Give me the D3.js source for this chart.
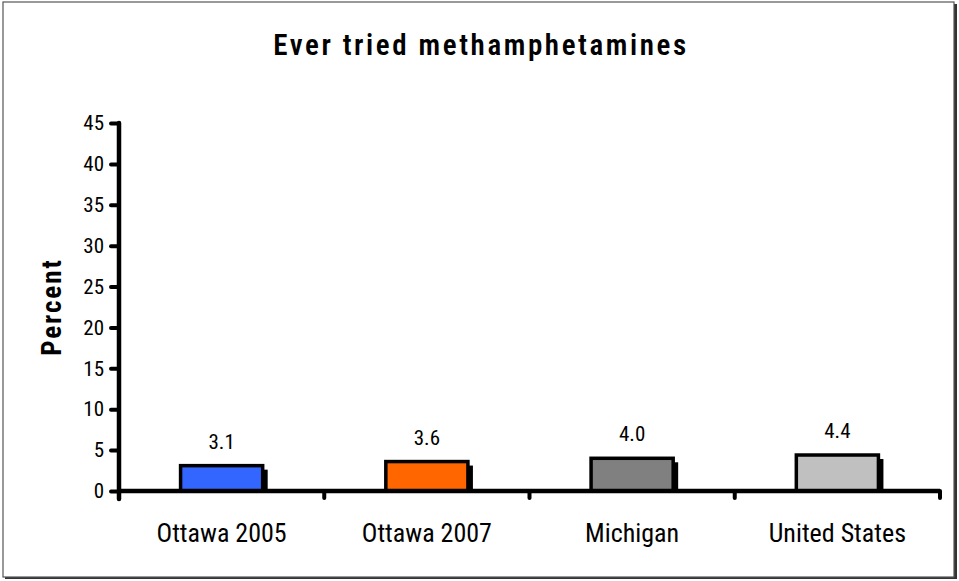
<!DOCTYPE html>
<html><head><meta charset="utf-8">
<script src="https://cdn.jsdelivr.net/npm/d3@7"></script>
<style>
body{margin:0;background:#fff;}
text{font-family:"Liberation Sans Narrow","Roboto Condensed","DejaVu Sans Condensed","Liberation Sans",sans-serif;fill:#000;}
</style></head>
<body><svg id="c" width="959" height="581"></svg>
<script>
const categories = ["Ottawa 2005","Ottawa 2007","Michigan","United States"];
const values = [3.1, 3.6, 4.0, 4.4];
const colors = ["#3366FF","#FF6600","#808080","#C0C0C0"];
const yTicks = [0,5,10,15,20,25,30,35,40,45];
const title = "Ever tried methamphetamines";
const yLabel = "Percent";

const svg = d3.select("#c");
// frame with shadow
svg.append("rect").attr("x",5).attr("y",4).attr("width",952).attr("height",575).attr("fill","#333");
svg.append("rect").attr("x",3).attr("y",2).attr("width",951).attr("height",575).attr("fill","#fff").attr("stroke","#555").attr("stroke-width",1.2);

const x0 = 119, x1 = 940, yTop = 123, yBot = 491;
const x = d3.scaleBand().domain(categories).range([x0,x1]).paddingInner(0.6).paddingOuter(0.3);
const xb = d3.scaleBand().domain(categories).range([x0,x1]);
const y = d3.scaleLinear().domain([0,45]).range([yBot,yTop]);

svg.append("text").attr("x",481).attr("y",55).attr("text-anchor","middle")
  .style("font-size","29px").style("letter-spacing","2.6px").style("font-weight","600").text(title);

// bars with shadow
const g = svg.append("g");
categories.forEach((c,i)=>{
  const bx = x(c), bw = x.bandwidth(), by = y(values[i]);
  g.append("rect").attr("x",bx+5).attr("y",by+4).attr("width",bw).attr("height",yBot-by-4).attr("fill","#000");
  g.append("rect").attr("x",bx).attr("y",by).attr("width",bw).attr("height",yBot-by)
    .attr("fill",colors[i]).attr("stroke","#000").attr("stroke-width",3.5);
  g.append("text").attr("x",bx+bw/2).attr("y",by-17).attr("text-anchor","middle")
    .style("font-size","21px").text(values[i].toFixed(1));
});

// y axis
const ya = svg.append("g").attr("transform",`translate(${x0},0)`)
  .call(d3.axisLeft(y).tickValues(yTicks).tickSize(8).tickPadding(7));
ya.select(".domain").remove();
ya.selectAll(".tick line").attr("stroke","#000").attr("stroke-width",4).attr("stroke-linecap","round");
ya.selectAll(".tick text").style("font-size","21px").attr("font-family",null);
svg.append("line").attr("x1",x0).attr("x2",x0).attr("y1",yTop).attr("y2",yBot+8)
  .attr("stroke","#000").attr("stroke-width",4.5).attr("stroke-linecap","round");

// x axis
svg.append("line").attr("x1",x0).attr("x2",x1).attr("y1",yBot).attr("y2",yBot)
  .attr("stroke","#000").attr("stroke-width",4.5);
const bounds = categories.map(c=>xb(c)).concat([x1]);
bounds.slice(1).forEach(b=>{
  svg.append("line").attr("x1",b).attr("x2",b).attr("y1",yBot).attr("y2",yBot+7)
    .attr("stroke","#000").attr("stroke-width",4).attr("stroke-linecap","round");
});
categories.forEach(c=>{
  svg.append("text").attr("x",xb(c)+xb.bandwidth()/2).attr("y",542).attr("text-anchor","middle")
    .style("font-size","26px").text(c);
});

svg.append("text").attr("transform","translate(61,307) rotate(-90)").attr("text-anchor","middle")
  .style("font-size","27px").style("font-weight","bold").style("letter-spacing","2px").text(yLabel);
</script></body></html>
